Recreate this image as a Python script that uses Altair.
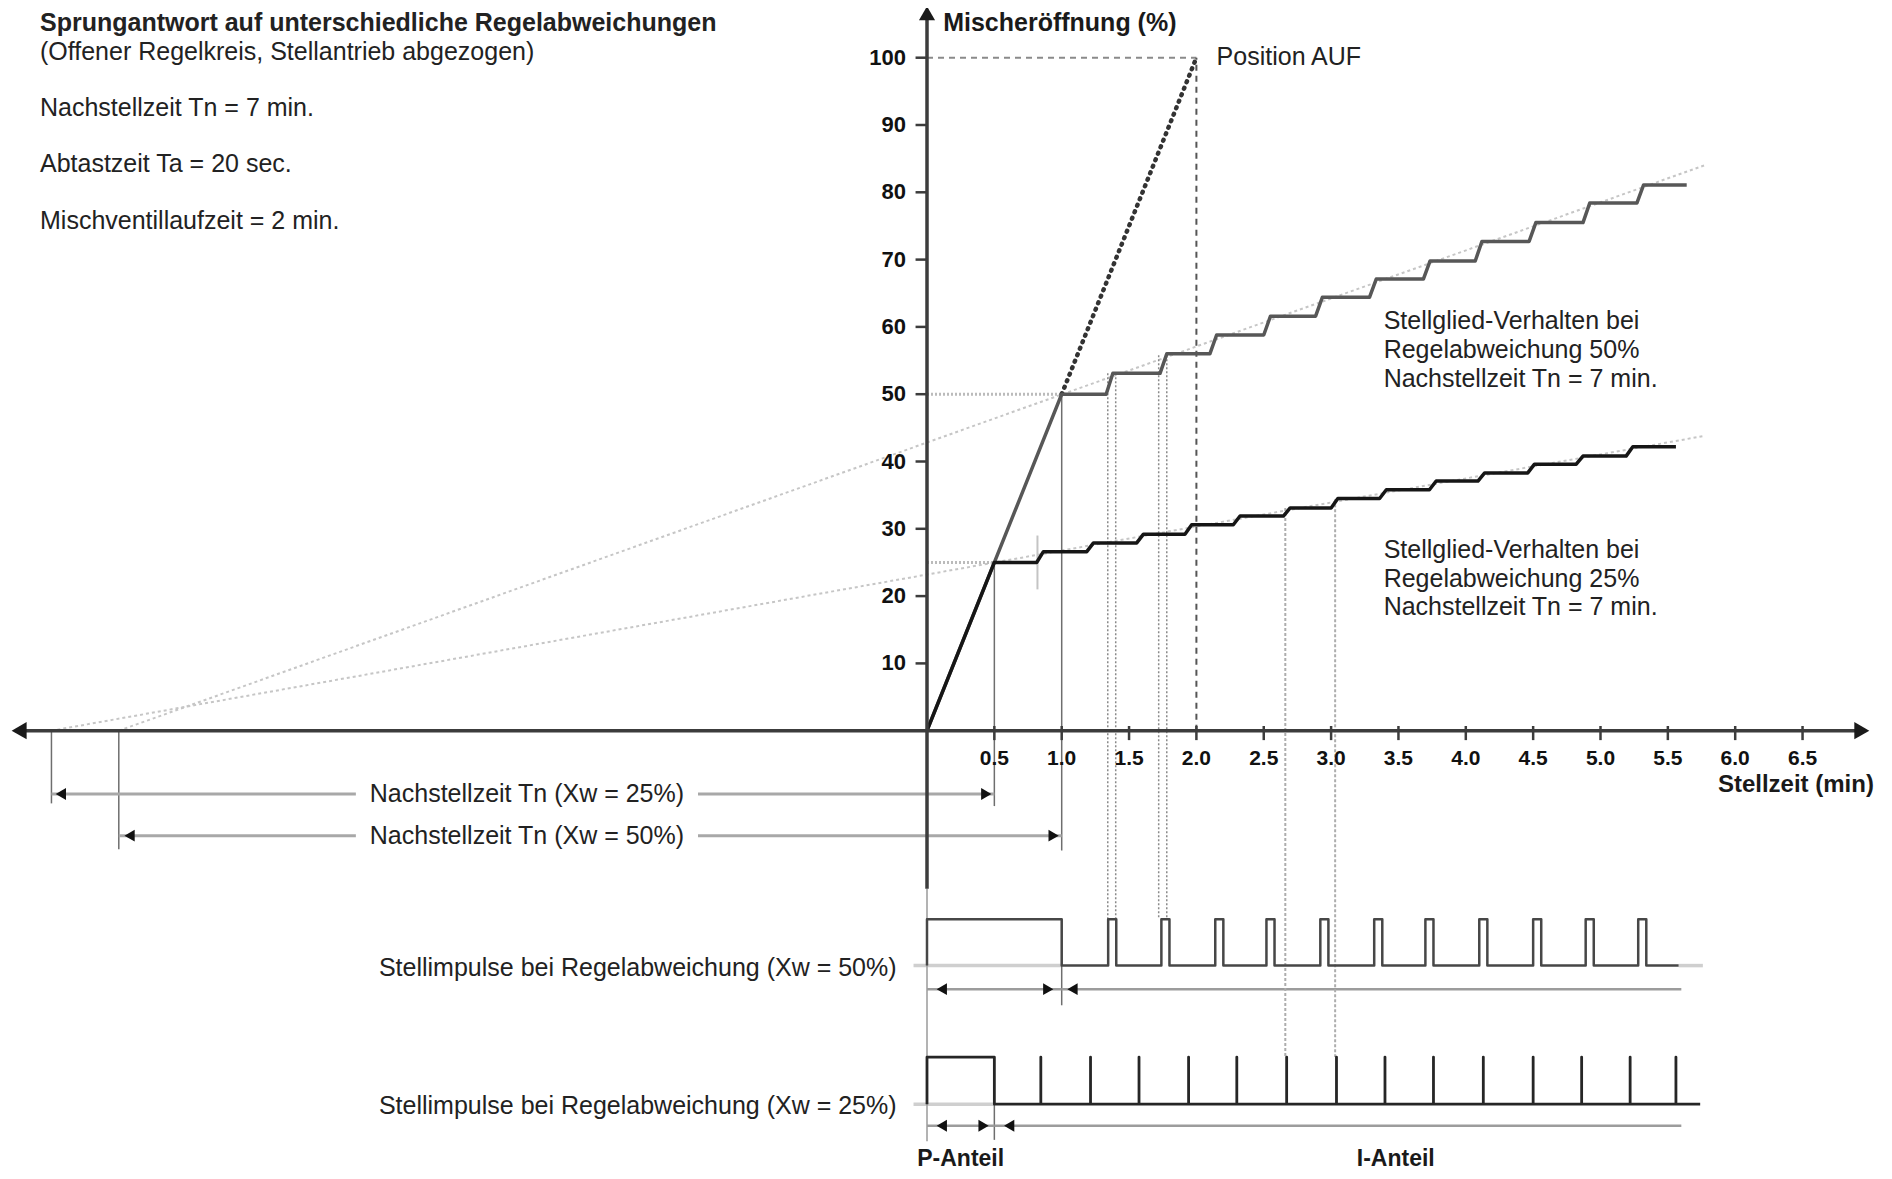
import altair as alt
import pandas as pd

# ---------------- values ----------------
x_ticks = [0.5, 1.0, 1.5, 2.0, 2.5, 3.0, 3.5, 4.0, 4.5, 5.0, 5.5, 6.0, 6.5]
x_tick_labels = ["0.5", "1.0", "1.5", "2.0", "2.5", "3.0", "3.5", "4.0", "4.5", "5.0", "5.5", "6.0", "6.5"]
y_ticks = [10, 20, 30, 40, 50, 60, 70, 80, 90, 100]
y_tick_labels = ["10", "20", "30", "40", "50", "60", "70", "80", "90", "100"]

# staircase, Regelabweichung 50 %
s50_ramp = [(0.0, 0.0), (1.0, 50.0)]
s50_step_t = [1.33, 1.73, 2.10, 2.50, 2.885, 3.285, 3.685, 4.07, 4.47, 4.87, 5.27]
s50_levels = [50.0, 53.1, 56.0, 58.8, 61.6, 64.4, 67.1, 69.8, 72.7, 75.5, 78.4, 81.1]
s50_end = 5.64

# staircase, Regelabweichung 25 %
s25_ramp = [(0.0, 0.0), (0.5, 25.0)]
s25_step_t = [0.814, 1.186, 1.557, 1.915, 2.274, 2.646, 3.00, 3.36, 3.73, 4.09, 4.46, 4.82, 5.19]
s25_levels = [25.0, 26.6, 27.9, 29.2, 30.6, 31.9, 33.1, 34.5, 35.8, 37.1, 38.3, 39.6, 40.8, 42.2]
s25_end = 5.56
rise = 0.05

# Nachstellzeit extension lines (start on time axis, end point)
ext50 = [(-6.0, 0.0), (5.77, 84.0)]
ext25 = [(-6.5, 0.0), (5.77, 43.8)]

# pulse trains
p50_t = [1.345, 1.74, 2.14, 2.52, 2.92, 3.32, 3.70, 4.10, 4.50, 4.89, 5.28]
p50_w = 0.06
p50_P_end = 1.0
p50_base, p50_high, p50_end = -34.9, -28.0, 5.58
p25_t = [0.845, 1.214, 1.574, 1.942, 2.30, 2.67, 3.04, 3.40, 3.76, 4.13, 4.50, 4.86, 5.22, 5.56]
p25_P_end = 0.5
p25_base, p25_high, p25_end = -55.5, -48.5, 5.74

# ---------------- scales ----------------
W, H = 1876, 1163
PXX, PXY = 134.7, 6.73
XMIN = -919 / PXX
XMAX = XMIN + W / PXX
YMAX = 722.7 / PXY
YMIN = YMAX - H / PXY
XS = alt.Scale(domain=[XMIN, XMAX], nice=False, zero=False)
YS = alt.Scale(domain=[YMIN, YMAX], nice=False, zero=False)

FONT = "Liberation Sans, Arial, sans-serif"
NARROW = "Liberation Sans Narrow, Arial Narrow, Liberation Sans, Arial, sans-serif"


def seg_df(segs):
    return pd.DataFrame(segs, columns=["x", "y", "x2", "y2"])


def rules(segs, **kw):
    return alt.Chart(seg_df(segs)).mark_rule(**kw).encode(
        x=alt.X("x:Q", scale=XS, axis=None),
        y=alt.Y("y:Q", scale=YS, axis=None),
        x2="x2:Q", y2="y2:Q")


def polyline(pts, **kw):
    df = pd.DataFrame([{"i": i, "x": x, "y": y} for i, (x, y) in enumerate(pts)])
    return alt.Chart(df).mark_line(**kw).encode(
        x=alt.X("x:Q", scale=XS, axis=None),
        y=alt.Y("y:Q", scale=YS, axis=None),
        order="i:Q")


def texts(rows, **kw):
    df = pd.DataFrame(rows, columns=["x", "y", "t"])
    return alt.Chart(df).mark_text(**kw).encode(
        x=alt.X("x:Q", scale=XS, axis=None),
        y=alt.Y("y:Q", scale=YS, axis=None),
        text="t:N")


def points(rows, **kw):
    df = pd.DataFrame(rows, columns=["x", "y"])
    return alt.Chart(df).mark_point(**kw).encode(
        x=alt.X("x:Q", scale=XS, axis=None),
        y=alt.Y("y:Q", scale=YS, axis=None))


def stair(ramp, step_t, levels, end):
    pts = list(ramp)
    for i, t in enumerate(step_t):
        pts.append((t, levels[i]))
        pts.append((t + rise, levels[i + 1]))
    pts.append((end, levels[-1]))
    return pts


# pulse paths
pp50 = [(0, p50_base), (0, p50_high), (p50_P_end, p50_high), (p50_P_end, p50_base)]
for t in p50_t:
    pp50 += [(t, p50_base), (t, p50_high), (t + p50_w, p50_high), (t + p50_w, p50_base)]
pp50.append((p50_end, p50_base))

pp25 = [(0, p25_base), (0, p25_high), (p25_P_end, p25_high), (p25_P_end, p25_base)]
for t in p25_t:
    pp25 += [(t, p25_base), (t, p25_high), (t, p25_base)]
pp25.append((p25_end, p25_base))

layers = []

# light extension lines
layers.append(rules([(ext50[0][0], ext50[0][1], ext50[1][0], ext50[1][1]),
                     (ext25[0][0], ext25[0][1], ext25[1][0], ext25[1][1])],
                    color="#c6c6c6", strokeWidth=2, strokeDash=[3, 3]))
# light dotted horizontals at 50 / 25
layers.append(rules([(0, 50, 1.0, 50), (0, 25, 0.5, 25)],
                    color="#bbbbbb", strokeWidth=3, strokeDash=[2, 2]))
# light baselines in pulse panels
layers.append(rules([(-0.1, p50_base, 1.0, p50_base), (p50_end, p50_base, 5.76, p50_base),
                     (-0.1, p25_base, 0.5, p25_base)],
                    color="#cfcfcf", strokeWidth=3.5))
# thin gray guides
layers.append(rules([(-6.5, 0, -6.5, -10.8), (-6.0, 0, -6.0, -17.6),
                     (0.5, 25, 0.5, -11.2), (1.0, 50, 1.0, -17.8),
                     (1.0, -28.0, 1.0, -40.8), (0.5, -48.5, 0.5, -60.8)],
                    color="#6e6e6e", strokeWidth=1.5))
layers.append(rules([(0, -23.5, 0, -61.0)], color="#9a9a9a", strokeWidth=1.5))
layers.append(rules([(0.82, 21, 0.82, 29)], color="#c4c4c4", strokeWidth=2))
# Tn arrow rows
layers.append(rules([(-6.5, -9.4, -4.24, -9.4), (-1.70, -9.4, 0.5, -9.4),
                     (-6.0, -15.6, -4.24, -15.6), (-1.70, -15.6, 1.0, -15.6)],
                    color="#a8a8a8", strokeWidth=3))
# panel arrow rows
layers.append(rules([(0, -38.4, 1.0, -38.4), (1.0, -38.4, 5.6, -38.4),
                     (0, -58.7, 0.5, -58.7), (0.5, -58.7, 5.6, -58.7)],
                    color="#9c9c9c", strokeWidth=2.5))
# double dotted verticals
layers.append(rules([(1.342, 53.1, 1.342, -28.0), (1.401, 53.1, 1.401, -28.0),
                     (1.72, 55.8, 1.72, -28.0), (1.78, 55.8, 1.78, -28.0)],
                    color="#8a8a8a", strokeWidth=1.5, strokeDash=[2, 2]))
# wavy verticals down to lower panel
layers.append(rules([(2.66, 33.1, 2.66, -48.5), (3.03, 34.4, 3.03, -48.5)],
                    color="#adadad", strokeWidth=2, strokeDash=[3, 2]))
# Position AUF dashed
layers.append(rules([(0, 100, 2.0, 100)], color="#8a8a8a", strokeWidth=2, strokeDash=[6, 5]))
layers.append(rules([(2.0, 0, 2.0, 100)], color="#555555", strokeWidth=2, strokeDash=[6, 5]))
# thick dotted ramp to 100 %
layers.append(rules([(1.0, 50, 2.0, 100)], color="#333333", strokeWidth=4.5,
                    strokeDash=[1, 6], strokeCap="round"))

# staircases
layers.append(polyline(stair(s50_ramp, s50_step_t, s50_levels, s50_end),
                       color="#575757", strokeWidth=3.5, strokeJoin="round"))
layers.append(polyline(stair(s25_ramp, s25_step_t, s25_levels, s25_end),
                       color="#161616", strokeWidth=3.5, strokeJoin="round"))
# pulse trains
layers.append(polyline(pp50, color="#474747", strokeWidth=2.5, strokeJoin="round"))
layers.append(polyline(pp25, color="#262626", strokeWidth=2.8, strokeJoin="round"))

# axes
layers.append(rules([(-6.72, 0, 6.9, 0), (0, -23.5, 0, 106.0)], color="#3c3c3c", strokeWidth=3.5))
layers.append(rules([(t, 0.7, t, -1.4) for t in x_ticks] + [(-0.085, v, 0, v) for v in y_ticks],
                    color="#3c3c3c", strokeWidth=2.5))

# arrowheads
layers.append(points([(-6.74, 0)], shape="triangle-left", size=300, filled=True, color="#1a1a1a", opacity=1))
layers.append(points([(6.94, 0)], shape="triangle-right", size=300, filled=True, color="#1a1a1a", opacity=1))
layers.append(points([(0, 106.6)], shape="triangle-up", size=260, filled=True, color="#1a1a1a", opacity=1))
layers.append(points([(-6.43, -9.4), (-5.92, -15.6), (0.11, -38.4), (1.08, -38.4),
                      (0.11, -58.7), (0.61, -58.7)],
                     shape="triangle-left", size=140, filled=True, color="#111111", opacity=1))
layers.append(points([(0.44, -9.4), (0.94, -15.6), (0.90, -38.4), (0.42, -58.7)],
                     shape="triangle-right", size=140, filled=True, color="#111111", opacity=1))

# texts
TX = -6.585
layers.append(texts([(TX, 105.2, "Sprungantwort auf unterschiedliche Regelabweichungen")],
                    font=FONT, fontSize=25, fontWeight="bold", align="left", baseline="middle", color="#222222"))
layers.append(texts([(TX, 100.9, "(Offener Regelkreis, Stellantrieb abgezogen)"),
                     (TX, 92.6, "Nachstellzeit Tn = 7 min."),
                     (TX, 84.2, "Abtastzeit Ta = 20 sec."),
                     (TX, 75.8, "Mischventillaufzeit = 2 min."),
                     (2.15, 100.1, "Position AUF"),
                     (3.39, 60.9, "Stellglied-Verhalten bei"),
                     (3.39, 56.6, "Regelabweichung 50%"),
                     (3.39, 52.3, "Nachstellzeit Tn = 7 min."),
                     (3.39, 26.8, "Stellglied-Verhalten bei"),
                     (3.39, 22.5, "Regelabweichung 25%"),
                     (3.39, 18.4, "Nachstellzeit Tn = 7 min.")],
                    font=FONT, fontSize=25, align="left", baseline="middle", color="#222222"))
layers.append(texts([(-2.97, -9.4, "Nachstellzeit Tn (Xw = 25%)"),
                     (-2.97, -15.6, "Nachstellzeit Tn (Xw = 50%)")],
                    font=FONT, fontSize=25, align="center", baseline="middle", color="#222222"))
layers.append(texts([(-0.226, -35.3, "Stellimpulse bei Regelabweichung (Xw = 50%)"),
                     (-0.226, -55.8, "Stellimpulse bei Regelabweichung (Xw = 25%)")],
                    font=FONT, fontSize=25, align="right", baseline="middle", color="#222222"))
layers.append(texts([(t, -4.2, l) for t, l in zip(x_ticks, x_tick_labels)],
                    font=NARROW, fontSize=21, fontWeight="bold", align="center", baseline="middle", color="#111111"))
layers.append(texts([(-0.156, v, l) for v, l in zip(y_ticks, y_tick_labels)],
                    font=NARROW, fontSize=22, fontWeight="bold", align="right", baseline="middle", color="#111111"))
layers.append(texts([(0.12, 105.2, "Mischeröffnung (%)")],
                    font=FONT, fontSize=25, fontWeight="bold", align="left", baseline="middle", color="#1a1a1a"))
layers.append(texts([(7.03, -8.1, "Stellzeit (min)")],
                    font=NARROW, fontSize=24, fontWeight="bold", align="right", baseline="middle", color="#1a1a1a"))
layers.append(texts([(0.25, -63.6, "P-Anteil"), (3.48, -63.6, "I-Anteil")],
                    font=NARROW, fontSize=23, fontWeight="bold", align="center", baseline="middle", color="#1a1a1a"))

chart = alt.layer(*layers).properties(
    width=W, height=H, padding=0,
    autosize=alt.AutoSizeParams(type="none"),
    background="white",
).configure_view(stroke=None)

chart.save("out.html", embed_options={"renderer": "svg", "actions": False})
